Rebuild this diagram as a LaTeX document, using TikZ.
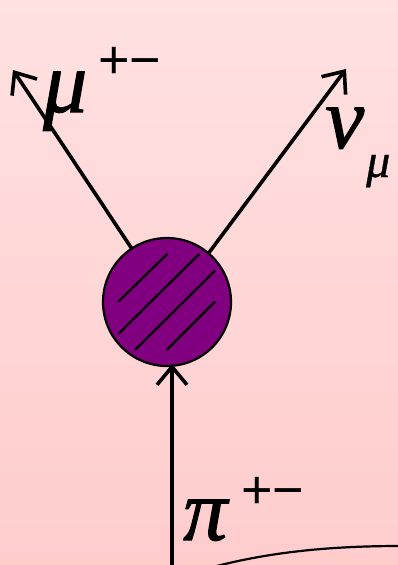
\documentclass[tikz,border=0pt]{standalone}
\usepackage{fontspec}
\setmainfont{Liberation Serif}
\newfontfamily\gk[FakeBold=1.2]{Liberation Serif}
\newfontfamily\gks[FakeBold=0.8]{Liberation Serif}
\newfontfamily\sy{Liberation Sans}
\usetikzlibrary{arrows.meta}
\definecolor{bgtop}{RGB}{255,225,225}
\definecolor{bgbot}{RGB}{255,204,204}
\definecolor{blobfill}{RGB}{128,0,128}
\tikzset{
  leg/.style={line width=3.6pt, -{Straight Barb[length=18pt,width=30pt,line width=3.6pt]}},
  hatch/.style={line width=2.2pt},
  greek/.style={inner sep=0pt, anchor=base west, font=\gk\itshape\fontsize{88}{88}\selectfont},
  sub/.style={inner sep=0pt, anchor=base west, font=\gks\itshape\fontsize{48}{48}\selectfont},
  sup/.style={inner sep=0pt, anchor=base west, font=\sy\fontsize{54}{54}\selectfont},
}
\begin{document}
\begin{tikzpicture}[x=1pt,y=-1pt]
\useasboundingbox (0,0) rectangle (398,565);
\shade[top color=bgtop, bottom color=bgbot] (0,0) rectangle (398,565);
\begin{scope}
\clip (0,0) rectangle (398,565);
\draw[line width=2.2pt] (213,567) .. controls (270,552) and (330,546) .. (400,546);
\end{scope}
\coordinate (muin) at (138,258);
\coordinate (nuin) at (205,258);
\coordinate (muend) at (13,70);
\coordinate (nuend) at (346,69);
\coordinate (piin) at (172,565);
\coordinate (pihit) at (172,364);
\draw[leg] (muin) -- (muend);
\draw[leg] (nuin) -- (nuend);
\node[circle, draw, line width=2.2pt, fill=blobfill, minimum size=128pt, inner sep=0pt] (blob) at (167,302) {};
\draw[hatch] (118.3,301.7) -- (167.3,254);
\draw[hatch] (118.3,334) -- (199.3,254);
\draw[hatch] (135,350) -- (215,270.7);
\draw[hatch] (166.7,350) -- (215,301.7);
\draw[leg] (piin) -- (pihit);
\node[greek] (mu) at (43,112) {μ};
\node[sup] (musup) at (98,78) {+−};
\node[greek] (nu) at (325,148) {ν};
\node[sub] (nusub) at (366,177) {μ};
\node[greek] (pi) at (183,540) {π};
\node[sup] (pisup) at (241,508) {+−};
\end{tikzpicture}
\end{document}
